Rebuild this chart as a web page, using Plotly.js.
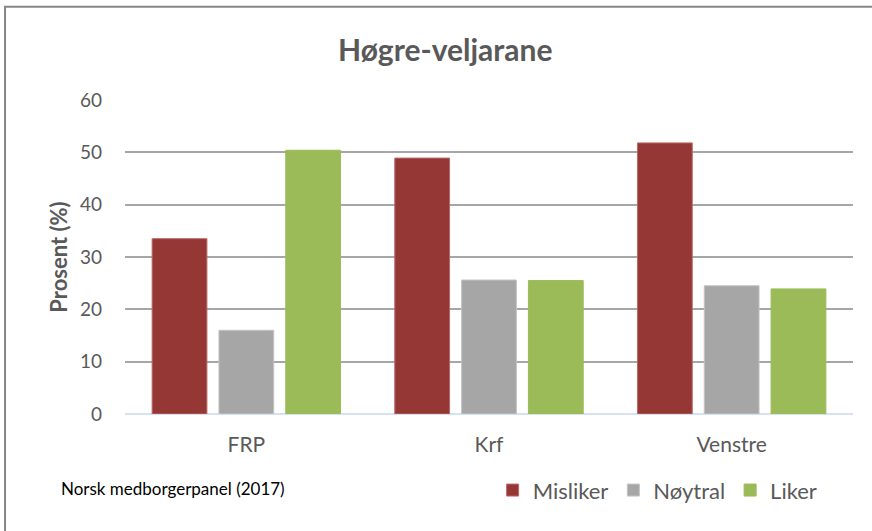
<!DOCTYPE html>
<html>
<head>
<meta charset="utf-8">
<script src="https://cdn.plot.ly/plotly-3.0.1.min.js"></script>
<style>html,body{margin:0;padding:0;background:#fff;}</style>
</head>
<body>
<div id="chart" style="width:872px;height:531px;"></div>
<script>
const categories = ["FRP", "Krf", "Venstre"];
const seriesNames = ["Misliker", "Nøytral", "Liker"];
const misliker = [33.5, 48.9, 51.8];
const noytral = [16.0, 25.6, 24.5];
const liker = [50.4, 25.5, 23.9];
const yTicks = [0, 10, 20, 30, 40, 50, 60];

const colors = ["#953735", "#a6a6a6", "#9bbb59"];
const lineColors = ["#b86a68", "#c4c4c4", "#9bbb59"];
const values = [misliker, noytral, liker];

const traces = values.map((v, i) => ({
  type: "bar",
  name: seriesNames[i],
  x: categories,
  y: v,
  marker: {color: colors[i], line: {color: lineColors[i], width: 1}},
  hoverinfo: "skip"
}));

const font = "Lato, 'Open Sans', sans-serif";
const layout = {
  width: 872, height: 531,
  margin: {l: 125, r: 19, t: 100, b: 117},
  paper_bgcolor: "#fff", plot_bgcolor: "#fff",
  font: {family: font, color: "#595959"},
  title: {text: "<b>Høgre-veljarane</b>", font: {size: 30, color: "#595959", family: font},
          x: 0.44, xref: "paper", y: 0.905, yref: "container", xanchor: "center", yanchor: "middle"},
  barmode: "group",
  bargap: 0.174,
  bargroupgap: 0.18,
  showlegend: true,
  legend: {orientation: "h", x: 0.505, xanchor: "left", y: -0.176, yanchor: "top",
           font: {size: 22, color: "#595959", family: font}, itemwidth: 30, traceorder: "normal"},
  xaxis: {showgrid: false, showline: false, ticks: "", tickfont: {size: 21, color: "#595959"},
          ticklabelstandoff: 16},
  yaxis: {range: [0, 60], tickvals: yTicks, showgrid: true, gridcolor: "#a6a6a6", gridwidth: 1.8,
          zeroline: true, zerolinecolor: "#d6e1f2", zerolinewidth: 2,
          ticks: "", tickfont: {size: 19, color: "#595959"}, ticklabelstandoff: 22,
          title: {text: "<b>Prosent (%)</b>", font: {size: 22, color: "#595959"}, standoff: 6}},
  annotations: [{text: "Norsk medborgerpanel (2017)", xref: "paper", yref: "paper",
                 x: -0.09, y: -0.237, xanchor: "left", yanchor: "middle", showarrow: false,
                 font: {size: 17, color: "#000", family: font}}],
  shapes: [{type: "rect", xref: "paper", yref: "paper", x0: -0.1648, x1: 1.04, y0: -0.45, y1: 1.297,
            line: {color: "#868686", width: 2}, fillcolor: "rgba(0,0,0,0)", layer: "below"}]
};

Plotly.newPlot("chart", traces, layout, {displayModeBar: false, staticPlot: true});
</script>
</body>
</html>
